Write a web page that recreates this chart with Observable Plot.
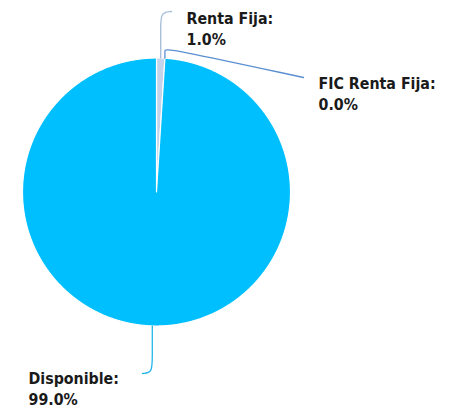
<!DOCTYPE html>
<html>
<head>
<meta charset="utf-8">
<script src="https://cdn.jsdelivr.net/npm/d3@7"></script>
<script src="https://cdn.jsdelivr.net/npm/@observablehq/plot@0.6"></script>
<style>
  html, body { margin: 0; padding: 0; background: #fff; }
  #chart svg { display: block; }
</style>
</head>
<body>
<div id="chart"></div>
<script>
// ---- data ----
const categories = ["Renta Fija", "FIC Renta Fija", "Disponible"];
const values = [1.0, 0.0, 99.0];
const valueLabels = ["1.0%", "0.0%", "99.0%"];

// ---- styles / layout ----
const sliceColors = ["#c3d4ea", "#4f81bd", "#00bfff"];
const leaderColors = ["#a3bcd8", "#5b8fd2", "#22b6ea"];
const W = 451, H = 412;
const CX = 156, CY = 191.5, R = 134; // pixel geometry of the pie
// label anchor (top-left of label text), pixel units
const labelPos = [[186, 8], [318, 73], [28, 368]];
// leader geometry: y of the elbow and end point, pixel units
const leaderElbowY = [12, 47, 372];
const leaderEnd = [[171, 11], [303, 77], [142, 373]];

const toU = ([px, py]) => [(px - CX) / R, (CY - py) / R];

// ---- pie angles via d3.pie (clockwise from 12 o'clock) ----
const arcs = d3.pie().sort(null).value(d => d)(values);

const slices = arcs.map((a, i) => {
  const pts = [[0, 0]];
  const n = Math.max(2, Math.ceil((a.endAngle - a.startAngle) / 0.005));
  for (let k = 0; k <= n; k++) {
    const t = a.startAngle + (a.endAngle - a.startAngle) * k / n;
    pts.push([Math.sin(t), Math.cos(t)]);
  }
  pts.push([0, 0]);
  return {i, pts: pts.map(([x, y]) => ({x, y, cat: categories[i]}))};
});

const leaders = arcs.map((a, i) => {
  const mid = (a.startAngle + a.endAngle) / 2;
  const rim = [Math.sin(mid), Math.cos(mid)];
  const rimPx = [CX + rim[0] * R, CY - rim[1] * R];
  const elbow = toU([rimPx[0], leaderElbowY[i]]);
  const pre = toU([rimPx[0], rimPx[1] + (leaderElbowY[i] - rimPx[1]) * 0.7]);
  const end = toU(leaderEnd[i]);
  const pts = [rim, pre, elbow, end];
  return pts.map(([x, y]) => ({x, y, cat: categories[i]}));
});

const labels = categories.map((c, i) => {
  const [x, y] = toU(labelPos[i]);
  return {x, y, text: `${c}:\n${valueLabels[i]}`};
});

const marks = [];
slices.forEach(s => {
  if (values[s.i] > 0) {
    marks.push(Plot.line(s.pts, {x: "x", y: "y", fill: sliceColors[s.i], stroke: "#ffffff", strokeWidth: 1.2, curve: "linear"}));
  }
});
leaders.forEach((l, i) => {
  marks.push(Plot.line(l, {x: "x", y: "y", stroke: leaderColors[i], strokeWidth: 1.3, curve: "basis"}));
});
marks.push(Plot.text(labels, {
  x: "x", y: "y", text: "text",
  textAnchor: "start", lineAnchor: "top", lineHeight: 1.35,
  fontSize: 15.8, fontWeight: "bold", fill: "#1a1a1a",
  fontFamily: "'DejaVu Sans Condensed', 'DejaVu Sans', sans-serif"
}));

const chart = Plot.plot({
  width: W, height: H,
  margin: 0,
  x: {domain: [-CX / R, (W - CX) / R], range: [0, W], axis: null},
  y: {domain: [-(H - CY) / R, CY / R], range: [H, 0], axis: null},
  style: {background: "#fff", overflow: "visible"},
  marks
});
document.getElementById("chart").appendChild(chart);
</script>
</body>
</html>
